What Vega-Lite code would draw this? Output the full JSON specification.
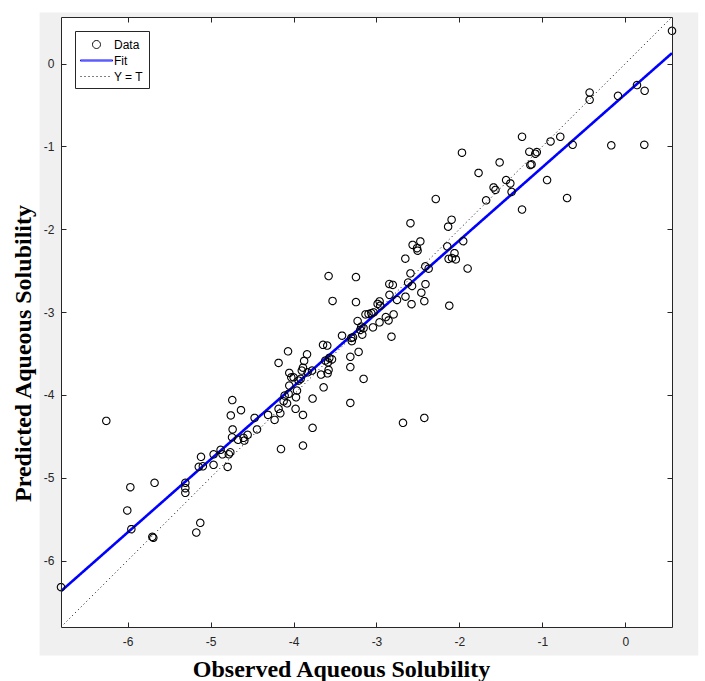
{
  "$schema": "https://vega.github.io/schema/vega-lite/v6.json",
  "width": 611,
  "height": 610,
  "autosize": {"type": "none"},
  "padding": {"left": 61, "top": 17, "right": 33, "bottom": 54},
  "background": "white",
  "view": {"stroke": null},
  "config": {
    "legend": {
      "orient": "top-left", "offset": 13.5, "padding": 5, "zindex": 3,
      "strokeColor": "#262626", "fillColor": "white", "cornerRadius": 0,
      "labelFont": "Liberation Sans", "labelFontSize": 12, "labelColor": "black",
      "symbolSize": 256, "symbolOffset": 8, "labelOffset": 9, "rowPadding": 1,
      "symbolStrokeWidth": 1, "symbolFillColor": "transparent"
    }
  },
  "datasets": {
    "bg": [{"x": -7.061, "x2": 0.88, "y": -7.146, "y2": 0.617}],
    "plotarea": [{"x": -6.803, "x2": 0.563, "y": -6.803, "y2": 0.563}],
    "fit": [{"x": -6.803, "y": -6.37, "series": "Fit"}, {"x": 0.563, "y": 0.127, "series": "Fit"}],
    "ident": [{"x": -6.803, "y": -6.803, "series": "Y = T"}, {"x": 0.563, "y": 0.563, "series": "Y = T"}],
    "pts": [
      {"x": -6.803, "y": -6.322, "series": "Data"},
      {"x": -6.257, "y": -4.314, "series": "Data"},
      {"x": -5.967, "y": -5.115, "series": "Data"},
      {"x": -5.675, "y": -5.062, "series": "Data"},
      {"x": -6.004, "y": -5.396, "series": "Data"},
      {"x": -5.955, "y": -5.622, "series": "Data"},
      {"x": -5.702, "y": -5.714, "series": "Data"},
      {"x": -5.69, "y": -5.726, "series": "Data"},
      {"x": -5.304, "y": -5.062, "series": "Data"},
      {"x": -5.304, "y": -5.127, "series": "Data"},
      {"x": -5.304, "y": -5.183, "series": "Data"},
      {"x": -5.124, "y": -5.545, "series": "Data"},
      {"x": -5.172, "y": -5.662, "series": "Data"},
      {"x": -5.115, "y": -4.748, "series": "Data"},
      {"x": -5.142, "y": -4.869, "series": "Data"},
      {"x": -5.093, "y": -4.862, "series": "Data"},
      {"x": -4.963, "y": -4.718, "series": "Data"},
      {"x": -4.964, "y": -4.845, "series": "Data"},
      {"x": -4.879, "y": -4.664, "series": "Data"},
      {"x": -4.856, "y": -4.718, "series": "Data"},
      {"x": -4.794, "y": -4.87, "series": "Data"},
      {"x": -4.78, "y": -4.717, "series": "Data"},
      {"x": -4.762, "y": -4.693, "series": "Data"},
      {"x": -4.756, "y": -4.248, "series": "Data"},
      {"x": -4.738, "y": -4.063, "series": "Data"},
      {"x": -4.633, "y": -4.185, "series": "Data"},
      {"x": -4.734, "y": -4.417, "series": "Data"},
      {"x": -4.741, "y": -4.512, "series": "Data"},
      {"x": -4.669, "y": -4.542, "series": "Data"},
      {"x": -4.602, "y": -4.519, "series": "Data"},
      {"x": -4.553, "y": -4.483, "series": "Data"},
      {"x": -4.593, "y": -4.552, "series": "Data"},
      {"x": -4.469, "y": -4.278, "series": "Data"},
      {"x": -4.44, "y": -4.417, "series": "Data"},
      {"x": -4.307, "y": -4.242, "series": "Data"},
      {"x": -4.228, "y": -4.302, "series": "Data"},
      {"x": -4.18, "y": -4.169, "series": "Data"},
      {"x": -4.159, "y": -4.222, "series": "Data"},
      {"x": -4.151, "y": -4.654, "series": "Data"},
      {"x": -4.18, "y": -3.614, "series": "Data"},
      {"x": -4.119, "y": -4.077, "series": "Data"},
      {"x": -4.078, "y": -4.102, "series": "Data"},
      {"x": -4.107, "y": -4.009, "series": "Data"},
      {"x": -4.059, "y": -3.988, "series": "Data"},
      {"x": -4.066, "y": -3.474, "series": "Data"},
      {"x": -4.051, "y": -3.888, "series": "Data"},
      {"x": -4.051, "y": -3.735, "series": "Data"},
      {"x": -4.027, "y": -3.788, "series": "Data"},
      {"x": -3.999, "y": -3.788, "series": "Data"},
      {"x": -3.958, "y": -3.948, "series": "Data"},
      {"x": -3.97, "y": -4.029, "series": "Data"},
      {"x": -3.975, "y": -4.169, "series": "Data"},
      {"x": -3.939, "y": -3.828, "series": "Data"},
      {"x": -3.914, "y": -3.807, "series": "Data"},
      {"x": -3.872, "y": -3.59, "series": "Data"},
      {"x": -3.886, "y": -3.671, "series": "Data"},
      {"x": -3.9, "y": -3.707, "series": "Data"},
      {"x": -3.837, "y": -3.51, "series": "Data"},
      {"x": -3.83, "y": -3.728, "series": "Data"},
      {"x": -3.777, "y": -3.707, "series": "Data"},
      {"x": -3.886, "y": -4.242, "series": "Data"},
      {"x": -3.886, "y": -4.612, "series": "Data"},
      {"x": -3.77, "y": -4.045, "series": "Data"},
      {"x": -3.77, "y": -4.398, "series": "Data"},
      {"x": -3.668, "y": -3.755, "series": "Data"},
      {"x": -3.637, "y": -3.909, "series": "Data"},
      {"x": -3.644, "y": -3.396, "series": "Data"},
      {"x": -3.593, "y": -3.405, "series": "Data"},
      {"x": -3.577, "y": -3.699, "series": "Data"},
      {"x": -3.589, "y": -3.74, "series": "Data"},
      {"x": -3.568, "y": -3.554, "series": "Data"},
      {"x": -3.536, "y": -3.572, "series": "Data"},
      {"x": -3.584, "y": -3.607, "series": "Data"},
      {"x": -3.617, "y": -3.586, "series": "Data"},
      {"x": -3.529, "y": -2.866, "series": "Data"},
      {"x": -3.577, "y": -2.565, "series": "Data"},
      {"x": -3.415, "y": -3.285, "series": "Data"},
      {"x": -3.303, "y": -3.312, "series": "Data"},
      {"x": -3.283, "y": -3.305, "series": "Data"},
      {"x": -3.297, "y": -3.351, "series": "Data"},
      {"x": -3.315, "y": -3.54, "series": "Data"},
      {"x": -3.315, "y": -3.664, "series": "Data"},
      {"x": -3.315, "y": -4.097, "series": "Data"},
      {"x": -3.247, "y": -2.578, "series": "Data"},
      {"x": -3.247, "y": -2.88, "series": "Data"},
      {"x": -3.215, "y": -3.481, "series": "Data"},
      {"x": -3.227, "y": -3.108, "series": "Data"},
      {"x": -3.183, "y": -3.176, "series": "Data"},
      {"x": -3.155, "y": -3.194, "series": "Data"},
      {"x": -3.195, "y": -3.216, "series": "Data"},
      {"x": -3.171, "y": -3.273, "series": "Data"},
      {"x": -3.155, "y": -3.807, "series": "Data"},
      {"x": -3.132, "y": -3.028, "series": "Data"},
      {"x": -3.095, "y": -3.023, "series": "Data"},
      {"x": -3.062, "y": -3.013, "series": "Data"},
      {"x": -3.034, "y": -3.004, "series": "Data"},
      {"x": -3.042, "y": -3.185, "series": "Data"},
      {"x": -2.963, "y": -3.124, "series": "Data"},
      {"x": -2.962, "y": -2.871, "series": "Data"},
      {"x": -2.986, "y": -2.902, "series": "Data"},
      {"x": -2.954, "y": -2.923, "series": "Data"},
      {"x": -2.887, "y": -3.061, "series": "Data"},
      {"x": -2.854, "y": -3.101, "series": "Data"},
      {"x": -2.793, "y": -3.028, "series": "Data"},
      {"x": -2.819, "y": -3.297, "series": "Data"},
      {"x": -2.845, "y": -2.661, "series": "Data"},
      {"x": -2.803, "y": -2.672, "series": "Data"},
      {"x": -2.843, "y": -2.792, "series": "Data"},
      {"x": -2.752, "y": -2.854, "series": "Data"},
      {"x": -2.65, "y": -2.814, "series": "Data"},
      {"x": -2.577, "y": -2.905, "series": "Data"},
      {"x": -2.459, "y": -2.766, "series": "Data"},
      {"x": -2.423, "y": -2.868, "series": "Data"},
      {"x": -2.409, "y": -2.663, "series": "Data"},
      {"x": -2.618, "y": -2.643, "series": "Data"},
      {"x": -2.571, "y": -2.685, "series": "Data"},
      {"x": -2.652, "y": -2.355, "series": "Data"},
      {"x": -2.59, "y": -2.533, "series": "Data"},
      {"x": -2.411, "y": -2.448, "series": "Data"},
      {"x": -2.371, "y": -2.476, "series": "Data"},
      {"x": -2.564, "y": -2.189, "series": "Data"},
      {"x": -2.511, "y": -2.229, "series": "Data"},
      {"x": -2.504, "y": -2.259, "series": "Data"},
      {"x": -2.471, "y": -2.147, "series": "Data"},
      {"x": -2.59, "y": -1.927, "series": "Data"},
      {"x": -2.285, "y": -1.635, "series": "Data"},
      {"x": -2.68, "y": -4.338, "series": "Data"},
      {"x": -2.423, "y": -4.278, "series": "Data"},
      {"x": -2.146, "y": -2.207, "series": "Data"},
      {"x": -2.122, "y": -2.923, "series": "Data"},
      {"x": -2.13, "y": -2.358, "series": "Data"},
      {"x": -2.089, "y": -2.347, "series": "Data"},
      {"x": -2.059, "y": -2.289, "series": "Data"},
      {"x": -2.043, "y": -2.364, "series": "Data"},
      {"x": -2.094, "y": -1.885, "series": "Data"},
      {"x": -2.136, "y": -1.969, "series": "Data"},
      {"x": -1.954, "y": -2.144, "series": "Data"},
      {"x": -1.901, "y": -2.474, "series": "Data"},
      {"x": -1.969, "y": -1.076, "series": "Data"},
      {"x": -1.769, "y": -1.32, "series": "Data"},
      {"x": -1.678, "y": -1.651, "series": "Data"},
      {"x": -1.588, "y": -1.495, "series": "Data"},
      {"x": -1.565, "y": -1.525, "series": "Data"},
      {"x": -1.515, "y": -1.193, "series": "Data"},
      {"x": -1.437, "y": -1.406, "series": "Data"},
      {"x": -1.386, "y": -1.447, "series": "Data"},
      {"x": -1.371, "y": -1.549, "series": "Data"},
      {"x": -1.245, "y": -0.883, "series": "Data"},
      {"x": -1.245, "y": -1.762, "series": "Data"},
      {"x": -1.157, "y": -1.064, "series": "Data"},
      {"x": -1.085, "y": -1.088, "series": "Data"},
      {"x": -1.067, "y": -1.068, "series": "Data"},
      {"x": -1.13, "y": -1.216, "series": "Data"},
      {"x": -1.145, "y": -1.224, "series": "Data"},
      {"x": -0.943, "y": -1.406, "series": "Data"},
      {"x": -0.901, "y": -0.94, "series": "Data"},
      {"x": -0.784, "y": -0.883, "series": "Data"},
      {"x": -0.702, "y": -1.623, "series": "Data"},
      {"x": -0.635, "y": -0.98, "series": "Data"},
      {"x": -0.43, "y": -0.349, "series": "Data"},
      {"x": -0.43, "y": -0.437, "series": "Data"},
      {"x": -0.169, "y": -0.987, "series": "Data"},
      {"x": -0.088, "y": -0.389, "series": "Data"},
      {"x": 0.141, "y": -0.259, "series": "Data"},
      {"x": 0.229, "y": -0.98, "series": "Data"},
      {"x": 0.233, "y": -0.328, "series": "Data"},
      {"x": 0.563, "y": 0.396, "series": "Data"}
    ]
  },
  "resolve": {"axis": {"x": "independent", "y": "independent"}},
  "layer": [
    {
      "data": {"name": "bg"},
      "mark": {"type": "rect", "fill": "#f0f0f0", "stroke": null},
      "encoding": {
        "x": {"field": "x", "type": "quantitative", "scale": {"domain": [-6.803, 0.563], "nice": false, "zero": false}, "axis": null},
        "x2": {"field": "x2"},
        "y": {"field": "y", "type": "quantitative", "scale": {"domain": [-6.803, 0.563], "nice": false, "zero": false}, "axis": null},
        "y2": {"field": "y2"}
      }
    },
    {
      "data": {"name": "plotarea"},
      "mark": {"type": "rect", "fill": "white", "stroke": null},
      "encoding": {
        "x": {"field": "x", "type": "quantitative", "axis": null},
        "x2": {"field": "x2"},
        "y": {"field": "y", "type": "quantitative", "axis": null},
        "y2": {"field": "y2"}
      }
    },
    {
      "data": {"name": "ident"},
      "mark": {"type": "line", "strokeWidth": 1},
      "encoding": {
        "x": {"field": "x", "type": "quantitative", "axis": null},
        "y": {"field": "y", "type": "quantitative", "axis": null},
        "color": {"field": "series", "type": "nominal", "legend": {"title": null}},
        "strokeDash": {"field": "series", "type": "nominal", "legend": {"title": null}}
      }
    },
    {
      "data": {"name": "fit"},
      "mark": {"type": "line", "strokeWidth": 2.6},
      "encoding": {
        "x": {"field": "x", "type": "quantitative", "axis": null},
        "y": {"field": "y", "type": "quantitative", "axis": null},
        "color": {"field": "series", "type": "nominal", "legend": {"title": null}},
        "strokeDash": {"field": "series", "type": "nominal", "legend": {"title": null}}
      }
    },
    {
      "data": {"name": "pts"},
      "mark": {"type": "point", "filled": false, "size": 219, "strokeWidth": 1.1, "opacity": 1},
      "encoding": {
        "x": {
          "field": "x", "type": "quantitative",
          "axis": {
            "orient": "bottom", "zindex": 2, "values": [-6, -5, -4, -3, -2, -1, 0], "labelExpr": "'' + datum.value",
            "grid": false, "tickSize": -5, "labelPadding": 14, "domainColor": "#262626", "tickColor": "#262626",
            "labelColor": "#262626", "labelFont": "Liberation Sans", "labelFontSize": 12,
            "title": "Observed Aqueous Solubility", "titleFont": "Liberation Serif", "titleFontWeight": "bold",
            "titleFontSize": 24, "titleColor": "black", "titleX": 280, "titleY": 49, "titleBaseline": "alphabetic", "titleAlign": "center"
          }
        },
        "y": {
          "field": "y", "type": "quantitative",
          "axis": {
            "orient": "left", "zindex": 2, "values": [-6, -5, -4, -3, -2, -1, 0], "labelExpr": "'' + datum.value",
            "grid": false, "tickSize": -5, "labelPadding": 12, "domainColor": "#262626", "tickColor": "#262626",
            "labelColor": "#262626", "labelFont": "Liberation Sans", "labelFontSize": 12,
            "title": "Predicted Aqueous Solubility", "titleFont": "Liberation Serif", "titleFontWeight": "bold",
            "titleFontSize": 24, "titleColor": "black", "titleX": -31, "titleY": 336, "titleAngle": 270,
            "titleBaseline": "alphabetic", "titleAlign": "center"
          }
        },
        "color": {
          "field": "series", "type": "nominal",
          "scale": {"domain": ["Data", "Fit", "Y = T"], "range": ["black", "#0000ff", "black"]},
          "legend": {"title": null}
        },
        "shape": {
          "field": "series", "type": "nominal",
          "scale": {"domain": ["Data", "Fit", "Y = T"], "range": ["M-0.5,0A0.5,0.5 0 1,0 0.5,0A0.5,0.5 0 1,0 -0.5,0", "M-2,-0.07L2,-0.07L2,0.07L-2,0.07Z", "M-2,0L2,0"]},
          "legend": {"title": null}
        },
        "strokeDash": {
          "field": "series", "type": "nominal",
          "scale": {"domain": ["Data", "Fit", "Y = T"], "range": [[1, 0], [1, 0], [1, 3]]},
          "legend": {"title": null}
        }
      }
    },
    {
      "data": {"name": "ident"},
      "mark": {"type": "point", "opacity": 0},
      "encoding": {
        "x": {"field": "x", "type": "quantitative", "axis": {"orient": "top", "zindex": 2, "values": [-6, -5, -4, -3, -2, -1, 0], "labels": false, "title": null, "grid": false, "tickSize": -5, "domainColor": "#262626", "tickColor": "#262626"}},
        "y": {"field": "y", "type": "quantitative", "axis": {"orient": "right", "zindex": 2, "values": [-6, -5, -4, -3, -2, -1, 0], "labels": false, "title": null, "grid": false, "tickSize": -5, "domainColor": "#262626", "tickColor": "#262626"}}
      }
    }
  ]
}
